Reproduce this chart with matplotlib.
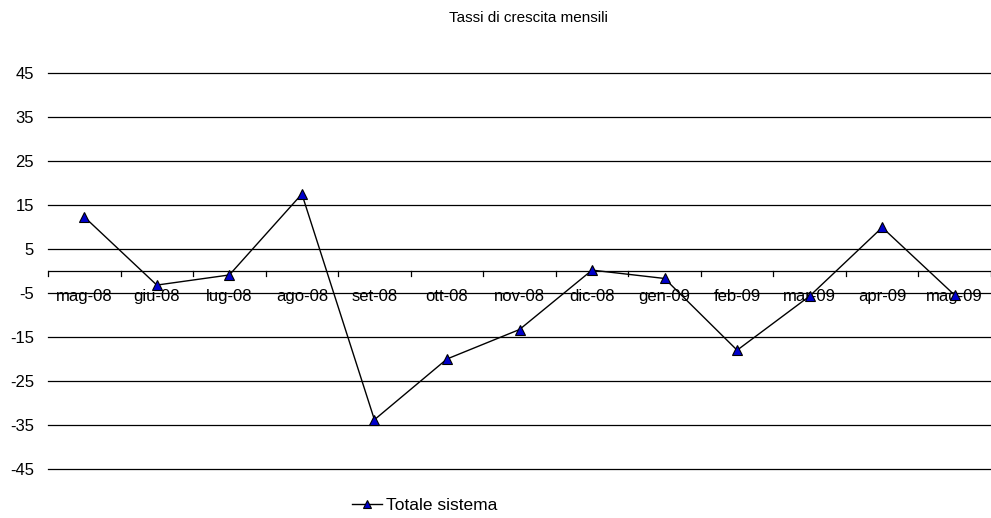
import numpy as np
import matplotlib.pyplot as plt
import matplotlib as mpl

mpl.rcParams['font.family'] = ['Liberation Sans', 'DejaVu Sans']

# data
months = ['mag-08', 'giu-08', 'lug-08', 'ago-08', 'set-08', 'ott-08', 'nov-08',
          'dic-08', 'gen-09', 'feb-09', 'mar-09', 'apr-09', 'mag-09']
totale = [12.3, -3.2, -0.9, 17.5, -33.8, -20.0, -13.3, 0.2, -1.7, -18.0, -5.7, 9.9, -5.5]
yticks = [-45, -35, -25, -15, -5, 5, 15, 25, 35, 45]

fig = plt.figure(figsize=(9.91, 5.18), dpi=100)
ax = fig.add_axes([48/991, 49/518, 943/991, 396/518])

x = np.arange(len(months))
ax.set_xlim(-0.5, len(months) - 0.5)
ax.set_ylim(-45, 45)

# horizontal gridlines
for v in yticks:
    ax.axhline(v, color='black', lw=0.9, zorder=1, clip_on=False)
# category axis at zero
ax.axhline(0, color='black', lw=0.9, zorder=1)
for b in np.arange(-0.5, len(months), 1):
    ax.plot([b, b], [0, -1.2], color='black', lw=0.9, zorder=1, clip_on=False)
for xi, lab in zip(x, months):
    ax.text(xi, -6.9, lab, ha='center', va='baseline', fontsize=12, zorder=2)

ax.plot(x, totale, color='black', lw=1, marker='^', markersize=6.5,
        markerfacecolor='#0000cc', markeredgecolor='black', markeredgewidth=0.8,
        zorder=3, label='Totale sistema')

ax.set_yticks(yticks)
ax.set_yticklabels([str(v) for v in yticks], fontsize=12)
ax.tick_params(axis='y', length=0, pad=10)
ax.set_xticks([])
for s in ax.spines.values():
    s.set_visible(False)

fig.text(528/991, 1 - 18/518, 'Tassi di crescita mensili', ha='center', va='center', fontsize=11)
fig.legend(loc='center', bbox_to_anchor=(425/991, 1 - 505/518), frameon=False,
           fontsize=12.5, handlelength=1.7, handletextpad=0.25, markerscale=0.8)

fig.savefig('out.png', dpi=100)
